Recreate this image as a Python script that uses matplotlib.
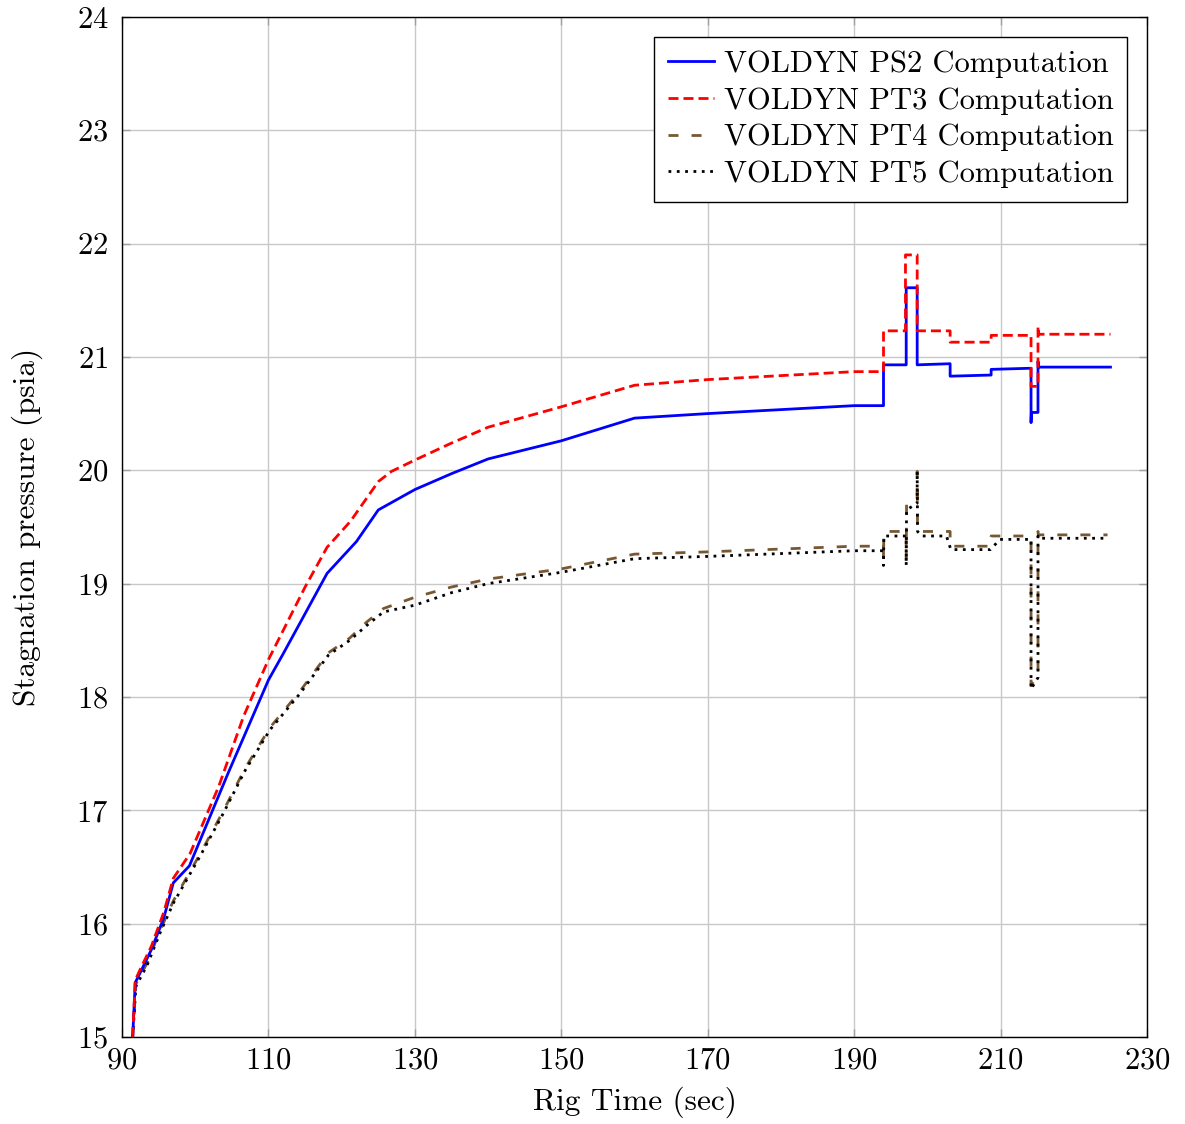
import matplotlib
matplotlib.use("Agg")
import matplotlib.pyplot as plt

plt.rcParams['font.family'] = 'serif'
plt.rcParams['font.serif'] = ['cmr10']
plt.rcParams['axes.formatter.use_mathtext'] = True

# stagnation pressure traces (psia) against rig time (sec)
t_ps2 = [91.45, 91.8, 92.5, 94.0, 95.7, 97.0, 99.2, 104.5, 110.0, 112.0, 118.0, 122.0,
         125.0, 130.0, 135.0, 140.0, 150.0, 160.0, 170.0, 190.0, 194.0, 194.0, 197.1,
         197.1, 198.6, 198.6, 203.1, 203.1, 208.7, 208.7, 214.15, 214.15, 214.2, 215.1,
         215.1, 215.2, 225.0]
p_ps2 = [15.0, 15.48, 15.57, 15.77, 16.05, 16.36, 16.51, 17.33, 18.15, 18.38, 19.09, 19.37,
         19.65, 19.83, 19.97, 20.10, 20.26, 20.46, 20.50, 20.57, 20.57, 20.93, 20.93,
         21.61, 21.61, 20.93, 20.94, 20.83, 20.84, 20.89, 20.90, 20.42, 20.51, 20.51,
         20.96, 20.91, 20.91]

t_pt3 = [91.45, 91.8, 92.5, 94.0, 95.7, 97.0, 99.3, 103.2, 106.6, 110.0, 115.0, 118.0,
         121.2, 125.0, 126.8, 130.0, 135.0, 140.0, 150.0, 160.0, 170.0, 190.0, 194.0,
         194.0, 197.0, 197.0, 198.6, 198.6, 203.1, 203.1, 208.7, 208.7, 214.15, 214.15,
         215.1, 215.1, 215.2, 225.0]
p_pt3 = [15.0, 15.5, 15.6, 15.8, 16.1, 16.40, 16.62, 17.21, 17.83, 18.33, 18.97, 19.32,
         19.55, 19.90, 19.99, 20.09, 20.24, 20.38, 20.56, 20.75, 20.80, 20.87, 20.87,
         21.23, 21.23, 21.90, 21.90, 21.23, 21.23, 21.13, 21.13, 21.19, 21.19, 20.74,
         20.74, 21.27, 21.20, 21.20]

t_pt4 = [91.45, 91.9, 93.4, 95.2, 97.0, 100.7, 103.8, 106.8, 110.2, 114.3, 118.2, 121.1,
         123.4, 125.7, 130.0, 135.0, 140.0, 150.0, 160.0, 170.0, 190.0, 194.0, 194.0,
         194.05, 197.1, 197.1, 197.15, 198.6, 198.6, 198.65, 203.1, 203.1, 208.7, 208.7,
         214.15, 214.15, 215.1, 215.1, 215.15, 224.6]
p_pt4 = [15.0, 15.47, 15.65, 15.94, 16.2, 16.62, 16.99, 17.37, 17.73, 18.05, 18.39, 18.52,
         18.66, 18.78, 18.88, 18.97, 19.04, 19.13, 19.26, 19.28, 19.33, 19.33, 19.22,
         19.46, 19.46, 19.20, 19.70, 19.75, 19.99, 19.46, 19.46, 19.33, 19.33, 19.42,
         19.42, 18.10, 18.20, 19.46, 19.43, 19.43]

t_pt5 = [91.45, 91.9, 93.4, 95.2, 97.0, 100.7, 103.8, 106.8, 110.2, 114.3, 118.2, 121.1,
         123.4, 125.7, 130.0, 135.0, 140.0, 150.0, 160.0, 170.0, 190.0, 194.0, 194.0,
         194.05, 197.1, 197.1, 197.15, 198.6, 198.6, 198.65, 199.2, 202.6, 203.2, 208.6,
         209.9, 214.15, 214.15, 215.1, 215.1, 215.15, 224.4]
p_pt5 = [15.0, 15.45, 15.63, 15.92, 16.18, 16.60, 16.97, 17.35, 17.71, 18.03, 18.37, 18.50,
         18.63, 18.75, 18.81, 18.92, 19.00, 19.10, 19.22, 19.24, 19.29, 19.29, 19.16,
         19.42, 19.42, 19.16, 19.65, 19.71, 19.99, 19.46, 19.42, 19.42, 19.30, 19.30,
         19.39, 19.39, 18.07, 18.17, 19.42, 19.40, 19.40]

labels = ["VOLDYN PS2 Computation", "VOLDYN PT3 Computation",
          "VOLDYN PT4 Computation", "VOLDYN PT5 Computation"]
brown = (0.47, 0.34, 0.20)

fig = plt.figure(figsize=(11.85, 11.24), dpi=100)
ax = fig.add_axes([0.103, 0.0774, 0.865, 0.9076])

lw = 2.0
ax.plot(t_ps2, p_ps2, color='blue', lw=lw, label=labels[0], zorder=5)
ax.plot(t_pt3, p_pt3, color='red', lw=lw, dashes=(3.6, 1.8), label=labels[1], zorder=6)
ax.plot(t_pt4, p_pt4, color=brown, lw=lw, dashes=(3.6, 4.7), label=labels[2], zorder=3)
ax.plot(t_pt5, p_pt5, color='black', lw=lw, dashes=(1.0, 2.0), label=labels[3], zorder=4)

ax.set_xlim(90, 230)
ax.set_ylim(15, 24)
ax.set_xticks(range(90, 231, 20))
ax.set_yticks(range(15, 25))
ax.grid(True, color='#c8c8c8', lw=1.0)
ax.set_axisbelow(True)
ax.tick_params(direction='in', top=True, right=True, length=6, width=1,
               color='#a0a0a0', labelsize=22)
ax.tick_params(axis='x', pad=7)
ax.tick_params(axis='y', pad=10)
for s in ax.spines.values():
    s.set_linewidth(1.0)

ax.set_xlabel("Rig Time (sec)", fontsize=22.5, labelpad=9)
ax.set_ylabel("Stagnation pressure (psia)", fontsize=22.5, labelpad=24)

leg = ax.legend(loc='upper right', fontsize=22, frameon=True, fancybox=False,
                edgecolor='black', framealpha=1, borderaxespad=0.65,
                handlelength=1.5, handletextpad=0.33, labelspacing=0.3,
                borderpad=0.45)
leg.get_frame().set_linewidth(1.0)

fig.savefig("out.png", dpi=100)
